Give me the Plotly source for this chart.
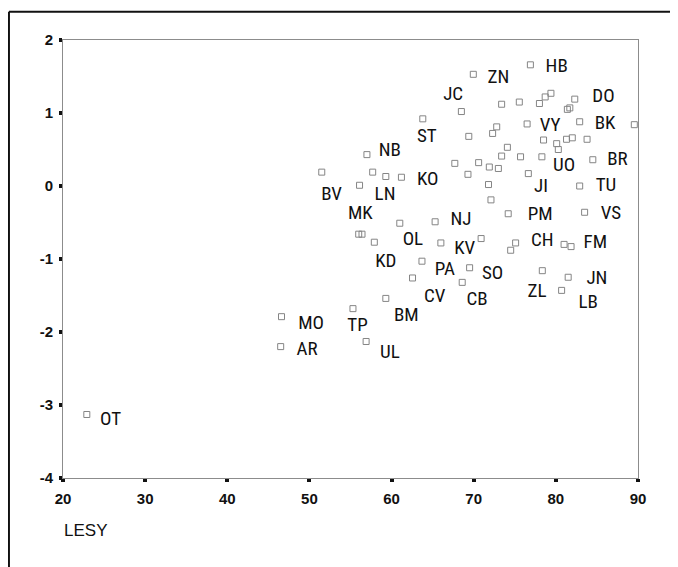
import plotly.graph_objects as go

# Scatter points (LESY on x, score on y)
point_x = [69.95, 68.5, 63.8, 69.4, 67.7, 70.6, 69.3, 57.0, 51.5, 57.7, 59.3, 61.2, 56.1,
           76.9, 73.4, 75.55, 78.0, 78.7, 79.4, 82.3, 81.4, 81.7, 72.8, 72.3, 76.5, 82.9, 89.55,
           74.1, 78.5, 80.1, 80.3, 81.3, 82.0, 83.8, 73.4, 75.7, 78.3, 84.5, 71.9, 73.0, 76.65,
           71.8, 82.9, 72.1, 74.2, 83.5, 70.9, 75.1, 74.5, 81.0, 81.85, 69.5, 68.6, 78.35, 81.5,
           80.7, 61.0, 65.3, 56.0, 56.4, 57.9, 66.0, 63.7, 62.55, 59.3, 55.3, 46.6, 56.9, 46.5,
           22.9]
point_y = [1.53, 1.02, 0.92, 0.68, 0.31, 0.32, 0.16, 0.43, 0.19, 0.19, 0.13, 0.12, 0.01,
           1.66, 1.12, 1.15, 1.13, 1.22, 1.27, 1.19, 1.05, 1.07, 0.81, 0.72, 0.85, 0.88, 0.84,
           0.53, 0.63, 0.58, 0.50, 0.64, 0.66, 0.64, 0.41, 0.40, 0.40, 0.36, 0.26, 0.24, 0.17,
           0.02, 0.00, -0.19, -0.38, -0.36, -0.72, -0.78, -0.88, -0.80, -0.83, -1.12, -1.32, -1.16, -1.25,
           -1.43, -0.51, -0.49, -0.66, -0.66, -0.77, -0.78, -1.03, -1.26, -1.54, -1.68, -1.79, -2.13, -2.20,
           -3.13]

# Text labels and where they sit
label_text = ["HB", "ZN", "JC", "DO", "VY", "BK", "ST", "NB", "UO", "BR", "KO", "JI", "TU",
              "BV", "LN", "MK", "PM", "VS", "NJ", "OL", "CH", "FM", "KV", "KD", "PA", "SO",
              "JN", "ZL", "CV", "CB", "LB", "BM", "MO", "TP", "AR", "UL", "OT"]
label_x = [80.1, 73.0, 67.5, 85.8, 79.3, 86.0, 64.3, 59.8, 81.0, 87.5, 64.4, 78.2, 86.1,
           52.7, 59.2, 56.2, 78.1, 86.7, 68.45, 62.6, 78.35, 84.8, 68.9, 59.3, 66.5, 72.3,
           85.0, 77.7, 65.25, 70.4, 83.95, 61.8, 50.2, 55.85, 49.7, 59.8, 25.8]
label_y = [1.63, 1.47, 1.24, 1.22, 0.82, 0.85, 0.67, 0.47, 0.27, 0.35, 0.08, -0.02, -0.01,
           -0.12, -0.13, -0.39, -0.40, -0.39, -0.47, -0.74, -0.76, -0.79, -0.87, -1.04, -1.15, -1.21,
           -1.28, -1.45, -1.53, -1.56, -1.61, -1.79, -1.89, -1.92, -2.25, -2.29, -3.21]

x_ticks = [20, 30, 40, 50, 60, 70, 80, 90]
y_ticks = [-4, -3, -2, -1, 0, 1, 2]
x_title = "LESY"

fig = go.Figure()
fig.add_trace(go.Scatter(
    x=point_x, y=point_y, mode="markers",
    marker=dict(symbol="square-open", size=6, color="#858585", line=dict(width=1, color="#858585")),
    hoverinfo="x+y", showlegend=False,
))
fig.add_trace(go.Scatter(
    x=label_x, y=label_y, mode="text", text=label_text, textposition="middle center",
    textfont=dict(family="Liberation Sans Narrow, Arial Narrow, Roboto Condensed, Liberation Sans, sans-serif",
                  size=19, color="#111111"),
    hoverinfo="skip", showlegend=False, cliponaxis=False,
))

tick_font = dict(size=15, family="Liberation Sans, Arial, sans-serif", weight="bold", color="#111111")

fig.update_layout(
    width=670, height=559, autosize=False,
    margin=dict(l=55, r=40, t=32, b=89),
    paper_bgcolor="white", plot_bgcolor="white",
    font=dict(family="Liberation Sans, Arial, sans-serif", color="#111111"),
    xaxis=dict(range=[20, 90], tickvals=x_ticks, ticktext=[str(v) for v in x_ticks],
               showgrid=False, zeroline=False, showline=True, linecolor="#8c8c8c", linewidth=1,
               mirror=True, ticks="outside", ticklen=3, tickwidth=4, tickcolor="#111111",
               tickfont=tick_font, ticklabelstandoff=4),
    yaxis=dict(range=[-4, 2], tickvals=y_ticks, ticktext=[str(v) for v in y_ticks],
               showgrid=False, zeroline=False, showline=True, linecolor="#8c8c8c", linewidth=1,
               mirror=True, ticks="outside", ticklen=3, tickwidth=4, tickcolor="#111111",
               tickfont=tick_font, ticklabelstandoff=3),
    annotations=[dict(text=x_title, xref="paper", yref="paper", x=-0.002, y=-0.119,
                      xanchor="left", yanchor="middle", showarrow=False,
                      font=dict(size=17, family="Liberation Sans, Arial, sans-serif", color="#111111"))],
    shapes=[dict(type="line", xref="paper", yref="paper", x0=-0.094, x1=-0.094, y0=-0.25, y1=1.0646,
                 line=dict(color="#111111", width=2)),
            dict(type="line", xref="paper", yref="paper", x0=-0.094, x1=1.061, y0=1.0646, y1=1.0646,
                 line=dict(color="#111111", width=2)),
            dict(type="line", xref="paper", yref="paper", x0=1.061, x1=1.061, y0=-0.25, y1=1.0646,
                 line=dict(color="#111111", width=2))],
)

fig.write_html("out.html")
